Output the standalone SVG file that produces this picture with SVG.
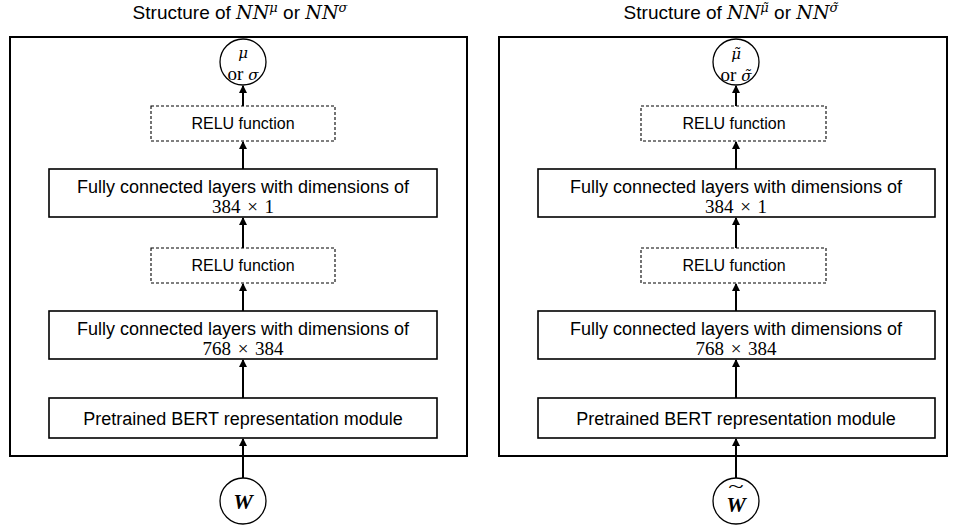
<svg xmlns="http://www.w3.org/2000/svg" width="957" height="529" viewBox="0 0 957 529">
<defs>
<marker id="ah" markerWidth="8" markerHeight="8" refX="7" refY="4" orient="auto" markerUnits="userSpaceOnUse">
<path d="M0,0 L8,4 L0,8 Z" fill="#000"/>
</marker>
<style>
.frame{fill:#fff;stroke:#000;stroke-width:2}
.box{fill:#fff;stroke:#000;stroke-width:1.6}
.dash{fill:#fff;stroke:#000;stroke-width:1.1;stroke-dasharray:3 2}
.circ{fill:#fff;stroke:#000;stroke-width:1.3}
.t{font-family:"Liberation Sans",Arial,sans-serif;font-size:18px;fill:#000;text-anchor:middle}
.ts{font-family:"Liberation Sans",Arial,sans-serif;font-size:19px;fill:#000;text-anchor:middle}
.r{font-family:"Liberation Sans",Arial,sans-serif;font-size:16px;fill:#000;text-anchor:middle}
.m{font-family:"Liberation Serif","Times New Roman",serif;font-size:19px;fill:#000;text-anchor:middle}
.d{font-family:"DejaVu Serif",serif;font-style:italic;fill:#000}
.mi{font-family:"Liberation Serif","Times New Roman",serif;font-style:italic;fill:#000}
.conn line{stroke:#000;stroke-width:2;marker-end:url(#ah)}
</style>
</defs>
<rect width="957" height="529" fill="#fff"/>

<!-- Left panel -->
<g id="title-left">
<text class="ts" x="240" y="19">Structure of <tspan class="d" font-size="19">NN</tspan><tspan class="d" font-size="13" dy="-7">μ</tspan><tspan dy="7"> or </tspan><tspan class="d" font-size="19">NN</tspan><tspan class="d" font-size="13" dy="-7">σ</tspan></text>
</g>
<g id="frame-left"><rect class="frame" x="10" y="37" width="457" height="419"/></g>
<g id="out-left">
<circle class="circ" cx="243" cy="62" r="23"/>
<text class="d" x="243" y="58" font-size="15" text-anchor="middle">μ</text>
<text class="m" x="243" y="80" font-size="17">or <tspan class="d" font-size="15">σ</tspan></text>
</g>
<g id="relu1-left"><rect class="dash" x="151" y="106" width="184" height="35"/><text class="r" x="243" y="129">RELU function</text></g>
<g id="fc1-left"><rect class="box" x="49" y="169" width="388" height="48"/><text class="t" x="243" y="193">Fully connected layers with dimensions of</text><text class="m" x="243" y="213" word-spacing="2">384 × 1</text></g>
<g id="relu2-left"><rect class="dash" x="151" y="248" width="184" height="35"/><text class="r" x="243" y="271">RELU function</text></g>
<g id="fc2-left"><rect class="box" x="49" y="311" width="388" height="48"/><text class="t" x="243" y="335">Fully connected layers with dimensions of</text><text class="m" x="243" y="355" word-spacing="2">768 × 384</text></g>
<g id="bert-left"><rect class="box" x="49" y="398" width="388" height="40"/><text class="t" x="243" y="425">Pretrained BERT representation module</text></g>
<g id="in-left"><circle class="circ" cx="243" cy="501" r="23"/><text class="mi" x="243" y="509" font-size="22" font-weight="bold" text-anchor="middle">W</text></g>

<!-- Right panel -->
<g id="title-right">
<text class="ts" x="731" y="19">Structure of <tspan class="d" font-size="19">NN</tspan><tspan class="d" font-size="13" dy="-7">μ̃</tspan><tspan dy="7"> or </tspan><tspan class="d" font-size="19">NN</tspan><tspan class="d" font-size="13" dy="-7">σ̃</tspan></text>
</g>
<g id="frame-right"><rect class="frame" x="499" y="37" width="448" height="419"/></g>
<g id="out-right">
<circle class="circ" cx="736" cy="62" r="23"/>
<text class="d" x="736" y="59" font-size="15" text-anchor="middle">μ̃</text>
<text class="m" x="736" y="81" font-size="17">or <tspan class="d" font-size="15">σ̃</tspan></text>
</g>
<g id="relu1-right"><rect class="dash" x="641" y="106" width="185" height="35"/><text class="r" x="734" y="129">RELU function</text></g>
<g id="fc1-right"><rect class="box" x="538" y="169" width="397" height="48"/><text class="t" x="736" y="193">Fully connected layers with dimensions of</text><text class="m" x="736" y="213" word-spacing="2">384 × 1</text></g>
<g id="relu2-right"><rect class="dash" x="641" y="248" width="185" height="35"/><text class="r" x="734" y="271">RELU function</text></g>
<g id="fc2-right"><rect class="box" x="538" y="311" width="397" height="48"/><text class="t" x="736" y="335">Fully connected layers with dimensions of</text><text class="m" x="736" y="355" word-spacing="2">768 × 384</text></g>
<g id="bert-right"><rect class="box" x="538" y="398" width="397" height="40"/><text class="t" x="736" y="425">Pretrained BERT representation module</text></g>
<g id="in-right"><circle class="circ" cx="736" cy="501" r="23"/><text class="mi" x="736" y="512" font-size="22" font-weight="bold" text-anchor="middle">W</text><text class="m" x="736" y="493" font-size="16" transform="matrix(1.5 0 0 1 -368 0)">~</text></g>

<g id="connectors" class="conn">
<line x1="243" y1="478" x2="243" y2="439"/>
<line x1="243" y1="398" x2="243" y2="360"/>
<line x1="243" y1="311" x2="243" y2="284"/>
<line x1="243" y1="248" x2="243" y2="218"/>
<line x1="243" y1="169" x2="243" y2="142"/>
<line x1="243" y1="106" x2="243" y2="86"/>
<line x1="736" y1="478" x2="736" y2="439"/>
<line x1="736" y1="398" x2="736" y2="360"/>
<line x1="736" y1="311" x2="736" y2="284"/>
<line x1="736" y1="248" x2="736" y2="218"/>
<line x1="736" y1="169" x2="736" y2="142"/>
<line x1="736" y1="106" x2="736" y2="86"/>
</g>
</svg>
